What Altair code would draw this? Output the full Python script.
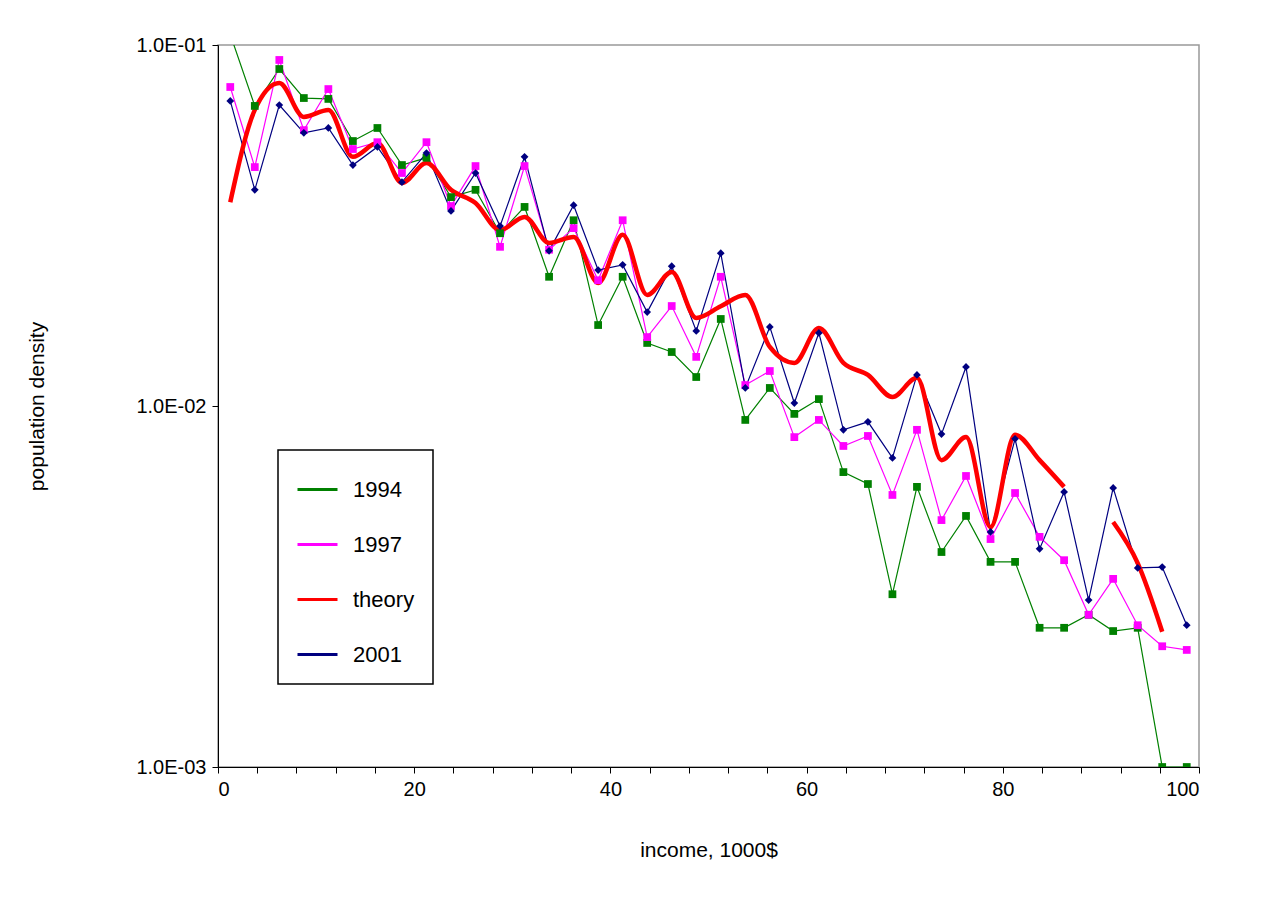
import pandas as pd
import altair as alt

# income bins (1000$), midpoints of 2.5k bins
income = [1.25 + 2.5 * i for i in range(40)]

y1994 = [0.107, 0.0678, 0.0858, 0.0713, 0.0709, 0.0542, 0.0589, 0.0465, 0.0487, 0.0379,
         0.0397, 0.0301, 0.0356, 0.0228, 0.0327, 0.01676, 0.0228, 0.01495, 0.01411, 0.01203,
         0.01742, 0.00915, 0.01122, 0.00951, 0.01045, 0.00656, 0.00608, 0.00301, 0.00597, 0.00394,
         0.00496, 0.00370, 0.00370, 0.00243, 0.00243, 0.00264, 0.00238, 0.00243, 0.001, 0.001]
y1997 = [0.0765, 0.0459, 0.0909, 0.0581, 0.0755, 0.0515, 0.0538, 0.0442, 0.0538, 0.0358,
         0.0462, 0.0276, 0.0462, 0.0271, 0.0311, 0.0223, 0.0327, 0.01552, 0.01892, 0.01368,
         0.0228, 0.01143, 0.01250, 0.00820, 0.00915, 0.00775, 0.00826, 0.00567, 0.00859, 0.00483,
         0.00640, 0.00428, 0.00574, 0.00434, 0.00374, 0.00264, 0.00332, 0.00247, 0.00216, 0.00211]
y2001 = [0.0700, 0.0397, 0.0682, 0.0571, 0.0589, 0.0465, 0.0522, 0.0417, 0.0502, 0.0347,
         0.0442, 0.0315, 0.0490, 0.0269, 0.0360, 0.0238, 0.0246, 0.0182, 0.0244, 0.01614,
         0.0265, 0.01122, 0.01656, 0.01019, 0.01594, 0.00859, 0.00904, 0.00718, 0.01219, 0.00836,
         0.01283, 0.00448, 0.00811, 0.00402, 0.00578, 0.00290, 0.00593, 0.00356, 0.00358, 0.00247]
# theory curve, None where it is broken
theory = [0.0367, 0.0661, 0.0785, 0.0632, 0.0661, 0.0490, 0.0535, 0.0415, 0.0471, 0.0397,
          0.0365, 0.0307, 0.0334, 0.0283, 0.0294, 0.0219, 0.0298, 0.0203, 0.0235, 0.01754,
          0.0189, 0.0203, 0.01457, 0.01316, 0.01644, 0.01316, 0.01219, 0.01059, 0.01197, 0.00708,
          0.00820, 0.00462, 0.00832, 0.00708, 0.00597, None, 0.00477, 0.00367, 0.00237, None]

series = ['1994', '1997', 'theory', '2001']
colors = ['#008000', '#FF00FF', '#FF0000', '#000080']

rows = []
for name, vals in [('1994', y1994), ('1997', y1997), ('2001', y2001)]:
    for x, v in zip(income, vals):
        rows.append({'income': x, 'density': v, 'series': name, 'seg': name})
seg = 0
for x, v in zip(income, theory):
    if v is None:
        seg += 1
        continue
    rows.append({'income': x, 'density': v, 'series': 'theory', 'seg': f'theory{seg}'})
df = pd.DataFrame(rows)

color = alt.Color('series:N', scale=alt.Scale(domain=series, range=colors),
                  sort=series, title=None)

x = alt.X('income:Q', title='income, 1000$', scale=alt.Scale(domain=[0, 100], nice=False),
          axis=alt.Axis(values=list(range(0, 101, 4)), labelExpr="datum.value % 20 == 0 ? datum.value : ''",
                        grid=False, tickSize=6, domainColor='black', tickColor='black',
                        titlePadding=40))
y = alt.Y('density:Q', title='population density',
          scale=alt.Scale(type='log', domain=[0.001, 0.1], nice=False),
          axis=alt.Axis(values=[0.001, 0.01, 0.1], grid=False, tickSize=6,
                        labelExpr="'1.0E-0' + round(-log(datum.value) / log(10))",
                        domainColor='black', tickColor='black', titlePadding=88))

base = alt.Chart(df)
data_lines = base.transform_filter(alt.datum.series != 'theory').mark_line(
    strokeWidth=1.2, clip=True).encode(x=x, y=y, color=color, detail='seg:N')
theory_line = base.transform_filter(alt.datum.series == 'theory').mark_line(
    strokeWidth=4.5, interpolate='monotone', clip=True).encode(
    x=x, y=y, color=color, detail='seg:N')
pts = base.transform_filter(alt.datum.series != 'theory').mark_point(
    filled=True, opacity=1, size=60, clip=True).encode(
    x=x, y=y, color=color,
    shape=alt.Shape('series:N', scale=alt.Scale(domain=['1994', '1997', '2001'],
                                                range=['square', 'square', 'diamond']), legend=None))

chart = alt.layer(data_lines, theory_line, pts).properties(
    width=981, height=722,
    autosize=alt.AutoSizeParams(type='none'),
    padding={'left': 210, 'top': 37, 'right': 62, 'bottom': 132},
).configure(font='Liberation Sans').configure_view(
    stroke='#999999', strokeWidth=1.5
).configure_axis(
    labelFontSize=20, titleFontSize=21, labelColor='black', titleColor='black',
    titleFontWeight='normal', labelPadding=6
).configure_legend(
    orient='none', legendX=60, legendY=405, strokeColor='black', strokeWidth=1.5,
    padding=18, labelFontSize=22, symbolType='stroke', symbolSize=1600,
    symbolStrokeWidth=3, rowPadding=22, labelOffset=14, fillColor='white',
    labelColor='black'
)

chart.save("out.html", embed_options={"renderer": "svg", "actions": False})
